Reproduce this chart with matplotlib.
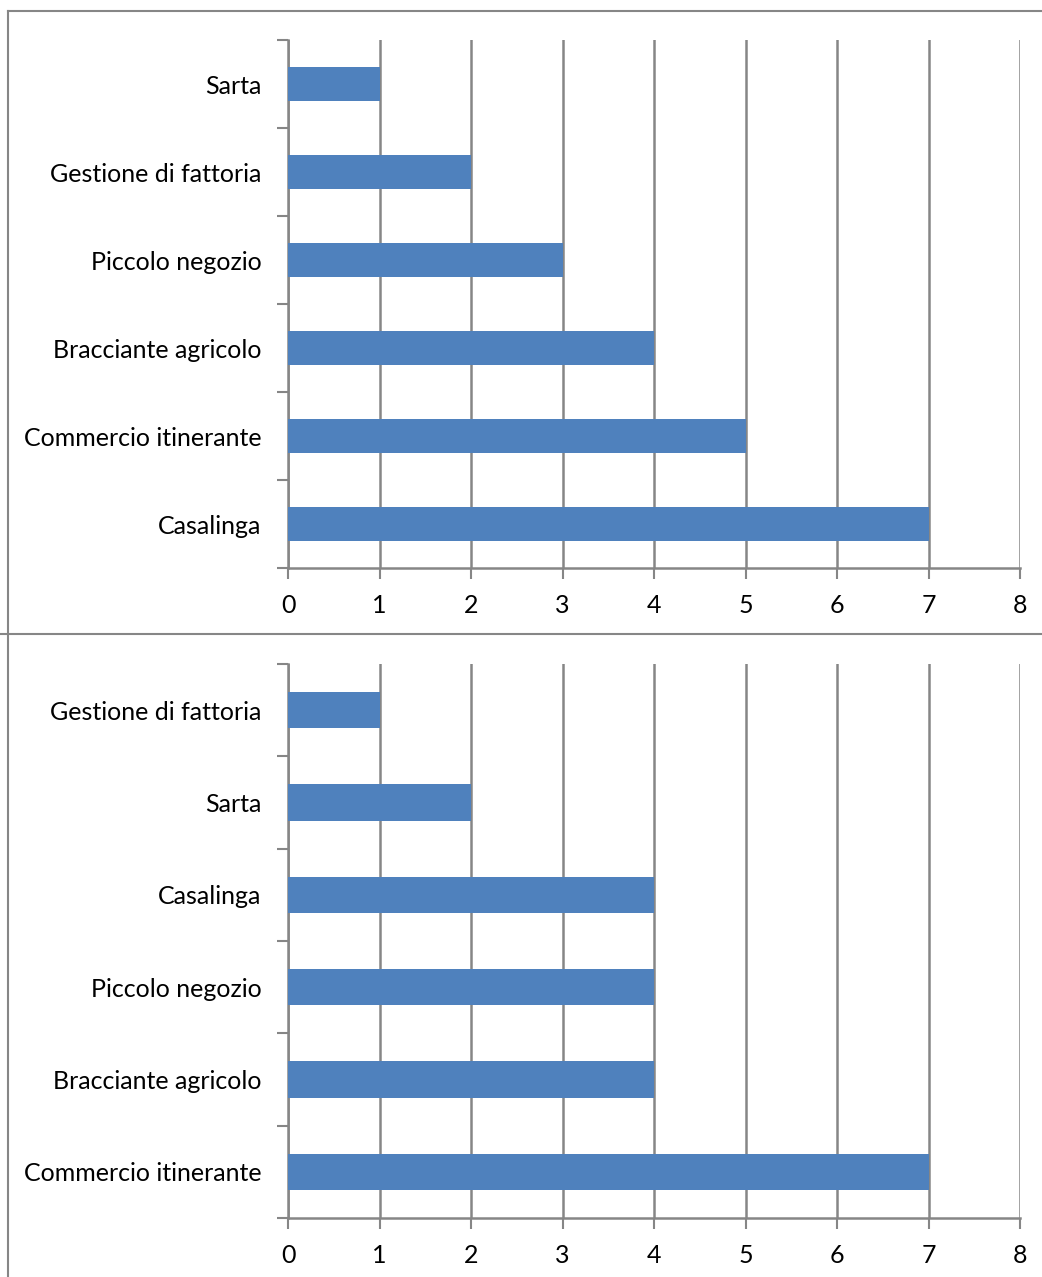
import matplotlib.pyplot as plt
from matplotlib.lines import Line2D

# occupations, listed from top to bottom
top_labels = ["Sarta", "Gestione di fattoria", "Piccolo negozio",
              "Bracciante agricolo", "Commercio itinerante", "Casalinga"]
top_values = [1, 2, 3, 4, 5, 7]

bottom_labels = ["Gestione di fattoria", "Sarta", "Casalinga",
                 "Piccolo negozio", "Bracciante agricolo", "Commercio itinerante"]
bottom_values = [1, 2, 4, 4, 4, 7]

x_ticks = [0, 1, 2, 3, 4, 5, 6, 7, 8]

W, H = 1042, 1277
bar_color = "#4F81BD"
grey = "#868686"
fs = 18

plt.rcParams["font.family"] = ["Lato", "DejaVu Sans"]

fig = plt.figure(figsize=(W / 100, H / 100), dpi=100)


def draw(ax, labels, values, bar_h):
    n = len(labels)
    ypos = list(range(n - 1, -1, -1))
    ax.barh(ypos, values, height=bar_h, color=bar_color, zorder=3)
    ax.set_xlim(0, 8)
    ax.set_ylim(-0.5, n - 0.5)
    ax.set_xticks(x_ticks)
    ax.set_yticks(ypos)
    ax.set_yticklabels(labels)
    ax.set_yticks([i - 0.5 for i in range(n + 1)], minor=True)
    ax.tick_params(axis="y", which="major", length=0, pad=19, labelsize=fs)
    ax.tick_params(axis="y", which="minor", length=8, width=1.5, color=grey)
    ax.tick_params(axis="x", length=8, width=1.5, color=grey, pad=11, labelsize=fs)
    ax.grid(axis="x", color=grey, linewidth=1.8, zorder=1)
    for s in ["top", "right"]:
        ax.spines[s].set_visible(False)
    for s in ["left", "bottom"]:
        ax.spines[s].set_color(grey)
        ax.spines[s].set_linewidth(1.8)


ax1 = fig.add_axes([288 / W, (H - 568) / H, 732 / W, 528 / H])
draw(ax1, top_labels, top_values, 0.39)

ax2 = fig.add_axes([288 / W, (H - 1218) / H, 732 / W, 554 / H])
draw(ax2, bottom_labels, bottom_values, 0.39)

# chart frames
frame = dict(color=grey, linewidth=1.5, transform=None)
fig.add_artist(Line2D([8, W], [H - 11, H - 11], **frame))
fig.add_artist(Line2D([8, 8], [0, H - 11], **frame))
fig.add_artist(Line2D([0, W], [H - 634, H - 634], **frame))

fig.savefig("out.png", dpi=100)
